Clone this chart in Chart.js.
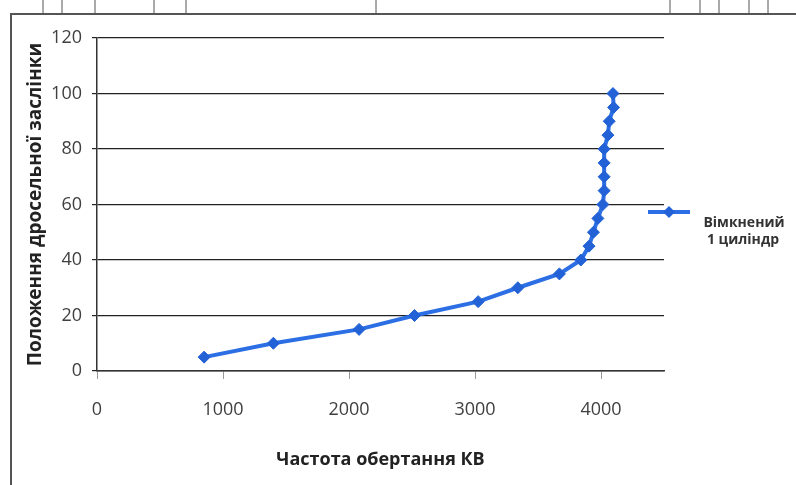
<!DOCTYPE html>
<html>
<head>
<meta charset="utf-8">
<script src="https://cdn.jsdelivr.net/npm/chart.js@4"></script>
<style>
    html, body { margin: 0; padding: 0; background: #fff; }
    #wrap { width: 796px; height: 485px; position: relative; }
</style>
</head>
<body>
<div id="wrap"><canvas id="throttleChart" width="796" height="485"></canvas></div>
<script>
// Частота обертання КВ (об/хв) для кожного положення заслінки
const rpmValues = [850, 1400, 2080, 2520, 3025, 3340, 3670, 3840, 3905, 3940,
                   3975, 4015, 4025, 4025, 4025, 4025, 4055, 4065, 4100, 4095];
// Положення дросельної заслінки, %
const throttleValues = [5, 10, 15, 20, 25, 30, 35, 40, 45, 50,
                        55, 60, 65, 70, 75, 80, 85, 90, 95, 100];
const xTicks = [0, 1000, 2000, 3000, 4000];
const yTicks = [0, 20, 40, 60, 80, 100, 120];
const seriesLabel = ['Вімкнений', '1 циліндр'];
const xTitle = 'Частота обертання КВ';
const yTitle = 'Положення дросельної заслінки';

const lineColor = '#2c6fe4';
const markerColor = '#2262d6';
const fontFamily = '"Open Sans", "DejaVu Sans", sans-serif';

// рамка сторінки та клітинки таблиці над графіком
const pageFrame = {
    id: 'pageFrame',
    beforeDraw(chart) {
        const ctx = chart.ctx;
        ctx.save();
        ctx.fillStyle = '#fff';
        ctx.fillRect(0, 0, chart.width, chart.height);
        ctx.restore();
    },
    afterDraw(chart) {
        const ctx = chart.ctx;
        ctx.save();
        ctx.strokeStyle = '#555';
        ctx.lineWidth = 2;
        ctx.beginPath();
        ctx.moveTo(11, 14);
        ctx.lineTo(chart.width, 14);
        ctx.moveTo(11, 13);
        ctx.lineTo(11, chart.height);
        ctx.stroke();
        ctx.lineWidth = 1;
        ctx.beginPath();
        [43, 62, 95, 154, 186, 376, 670, 700, 719, 749, 768].forEach(x => {
            ctx.moveTo(x, 0);
            ctx.lineTo(x, 14);
        });
        ctx.stroke();
        ctx.restore();
    }
};

// легенда праворуч: лінія з маркером і підпис у два рядки
const sideLegend = {
    id: 'sideLegend',
    afterDraw(chart) {
        const ctx = chart.ctx;
        const right = chart.chartArea.right;
        const y = 212;
        ctx.save();
        ctx.strokeStyle = lineColor;
        ctx.lineWidth = 4;
        ctx.beginPath();
        ctx.moveTo(right - 16, y);
        ctx.lineTo(right + 26, y);
        ctx.stroke();
        ctx.fillStyle = markerColor;
        ctx.beginPath();
        ctx.moveTo(right + 5, y - 6);
        ctx.lineTo(right + 11, y);
        ctx.lineTo(right + 5, y + 6);
        ctx.lineTo(right - 1, y);
        ctx.closePath();
        ctx.fill();
        ctx.fillStyle = '#333';
        ctx.font = 'bold 14px ' + fontFamily;
        ctx.textAlign = 'center';
        ctx.textBaseline = 'middle';
        ctx.fillText(seriesLabel[0], right + 80, 223);
        ctx.fillText(seriesLabel[1], right + 79, 240);
        ctx.restore();
    }
};

const points = rpmValues.map((x, i) => ({ x: x, y: throttleValues[i] }));

new Chart(document.getElementById('throttleChart'), {
    type: 'scatter',
    data: {
        datasets: [{
            label: seriesLabel.join(' '),
            data: points,
            showLine: true,
            borderColor: lineColor,
            borderWidth: 4,
            pointStyle: 'rectRot',
            pointRadius: 6,
            pointBackgroundColor: markerColor,
            pointBorderColor: markerColor,
            pointBorderWidth: 1
        }]
    },
    options: {
        responsive: false,
        animation: false,
        layout: { padding: { left: 0, right: 132, top: 38, bottom: 0 } },
        plugins: {
            legend: { display: false },
            tooltip: { enabled: false }
        },
        scales: {
            x: {
                type: 'linear',
                min: 0,
                max: 4500,
                afterFit(scale) { scale.height = 114; },
                afterBuildTicks(scale) { scale.ticks = xTicks.map(v => ({ value: v })); },
                ticks: {
                    color: '#404040',
                    padding: 20,
                    font: { family: fontFamily, size: 18 },
                    callback: v => String(v)
                },
                grid: {
                    drawOnChartArea: false,
                    drawTicks: true,
                    tickLength: 8,
                    color: '#9a9a9a'
                },
                border: { display: true, color: '#333', width: 1.5 },
                title: {
                    display: true,
                    text: xTitle,
                    color: '#222',
                    padding: { top: 0, bottom: 14 },
                    font: { family: fontFamily, size: 18, weight: 'bold' }
                }
            },
            y: {
                min: 0,
                max: 120,
                afterFit(scale) { scale.width = 97; },
                afterBuildTicks(scale) { scale.ticks = yTicks.map(v => ({ value: v })); },
                ticks: {
                    color: '#404040',
                    padding: 10,
                    font: { family: fontFamily, size: 18 },
                    callback: v => String(v)
                },
                grid: {
                    color: '#222',
                    lineWidth: 1.2,
                    drawTicks: true,
                    tickLength: 5
                },
                border: { display: true, color: '#333', width: 1.5 },
                title: {
                    display: true,
                    text: yTitle,
                    color: '#222',
                    padding: { top: 24, bottom: 0 },
                    font: { family: fontFamily, size: 19, weight: 'bold' }
                }
            }
        }
    },
    plugins: [pageFrame, sideLegend]
});
</script>
</body>
</html>
